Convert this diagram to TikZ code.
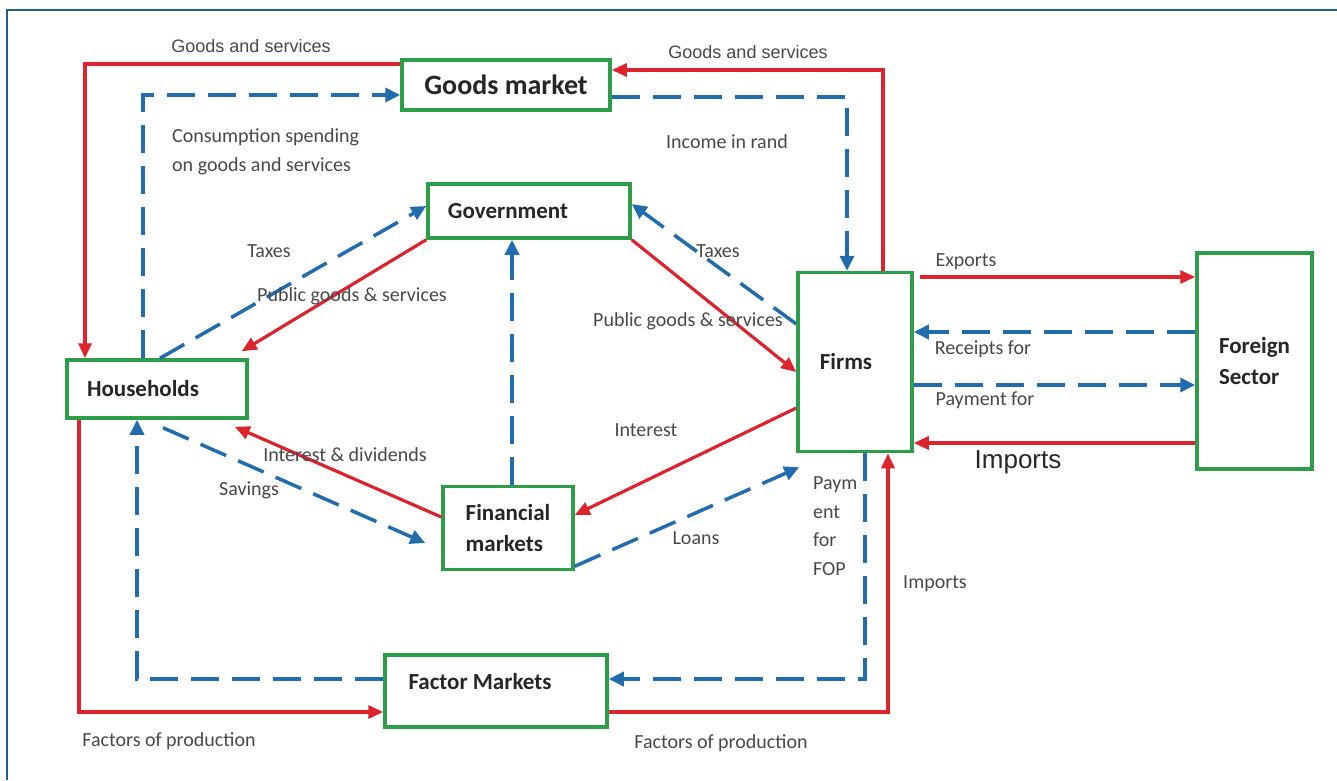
\documentclass[tikz,border=0pt]{standalone}
\usepackage{fontspec}
\setmainfont{Carlito}
\newfontfamily\arialf{Liberation Sans}
\usetikzlibrary{arrows.meta}
\definecolor{cred}{RGB}{221,36,46}
\definecolor{cblue}{RGB}{33,108,173}
\definecolor{cgreen}{RGB}{44,158,74}
\definecolor{cframe}{RGB}{28,98,140}
\definecolor{ctext}{RGB}{72,72,72}
\definecolor{cbold}{RGB}{38,38,38}
\tikzset{
  box/.style={draw=cgreen, line width=3.5pt, fill=white, inner sep=0pt, text=cbold,
              font=\bfseries\fontsize{23}{31}\selectfont},
  redflow/.style={draw=cred, line width=3.2pt, -{Triangle[length=15pt,width=13pt]}},
  blueflow/.style={draw=cblue, line width=3.5pt, dash pattern=on 28pt off 13pt,
              -{Triangle[length=15pt,width=14pt]}},
  lbl/.style={text=ctext, font=\fontsize{20}{29}\selectfont, inner sep=0pt},
  arlbl/.style={text=ctext, font=\arialf\fontsize{18}{22}\selectfont, inner sep=0pt},
  biglbl/.style={text=cbold, font=\arialf\fontsize{26}{30}\selectfont, inner sep=0pt},
  framestyle/.style={draw=cframe, line width=2.5pt}
}
\begin{document}
\begin{tikzpicture}[x=1pt,y=-1pt]
\useasboundingbox (0,0) rectangle (1337,780);
\draw[framestyle] (7,780) -- (7,10) -- (1337,10);

% boxes
\node[box, minimum width=208pt, minimum height=50pt, font=\bfseries\fontsize{28}{32}\selectfont] (gm) at (506,85) {Goods market};
\node[box, minimum width=202pt, minimum height=54pt] (gov) at (529,211) {\hspace*{-42pt}Government};
\node[box, minimum width=180pt, minimum height=58pt] (hh) at (157,389) {\hspace*{-28pt}Households};
\node[box, minimum width=114pt, minimum height=179pt] (firms) at (855,362) {\hspace*{-18pt}Firms};
\node[box, minimum width=130pt, minimum height=83pt, align=left] (fin) at (508,528) {Financial\\markets};
\node[box, minimum width=222pt, minimum height=72pt] (fm) at (496,691) {\raisebox{2pt}[0pt][0pt]{\hspace*{-32pt}Factor Markets}};
\node[box, minimum width=115pt, minimum height=216pt, align=left] (fs) at (1254.5,361) {Foreign\\Sector};

% outer loop connectors
\draw[redflow] ([xshift=28pt]firms.north) |- ([yshift=15pt]gm.east);
\draw[redflow] ([yshift=21pt]gm.west) -| ([xshift=-72pt]hh.north);
\draw[blueflow] ([xshift=-14pt]hh.north) |- ([yshift=-10pt]gm.west);
\draw[blueflow] ([yshift=-12pt]gm.east) -| ([xshift=-8pt]firms.north);

% government
\draw[blueflow] ([xshift=3pt]hh.north) -- ([yshift=5pt]gov.west);
\draw[redflow] (gov.south west) -- ([xshift=-7pt,yshift=7pt]hh.north east);
\draw[redflow] (gov.south east) -- ([yshift=-10pt]firms.west);
\draw[blueflow] ([yshift=38pt]firms.west) -- ([yshift=7pt]gov.east);
\coordinate (fintop) at ([xshift=4pt]fin.north);
\draw[blueflow] (fintop) -- (fintop |- gov.south);

% financial markets
\draw[redflow] ([yshift=-46pt]firms.west) -- ([yshift=13pt]fin.east);
\draw[blueflow] ([yshift=5pt]fin.south east) -- ([xshift=3pt,yshift=-14pt]firms.south west);
\draw[redflow] ([yshift=11pt]fin.west) -- ([xshift=-14pt,yshift=-7pt]hh.south east);
\draw[blueflow] ([xshift=6pt,yshift=-8pt]hh.south) -- ([xshift=-16pt,yshift=-15pt]fin.west);

% factor markets
\draw[blueflow] ([xshift=10pt]firms.south) |- ([yshift=12pt]fm.east);
\draw[redflow] ([yshift=-21pt]fm.east) -| ([xshift=33pt]firms.south);
\draw[blueflow] ([yshift=12pt]fm.west) -| ([xshift=-20pt]hh.south);
\draw[redflow] ([xshift=-78pt]hh.south) |- ([yshift=-21pt]fm.west);

% foreign sector
\coordinate (ex) at ([yshift=84pt]fs.west);
\coordinate (rc) at ([yshift=29pt]fs.west);
\coordinate (pf) at ([yshift=-24pt]fs.west);
\coordinate (im) at ([yshift=-82pt]fs.west);
\draw[redflow, shorten <=6pt] (ex -| firms.east) -- (ex);
\draw[blueflow] (rc) -- (rc -| firms.east);
\draw[blueflow] (pf -| firms.east) -- (pf);
\draw[redflow] (im) -- (im -| firms.east);

% labels
\node[arlbl] (l1) at (251,46) {Goods and services};
\node[arlbl] (l2) at (748,52) {Goods and services};
\node[lbl, anchor=west, align=left] (l3) at (172,152) {Consumption spending\\on goods and services};
\node[lbl] (l4) at (727,142) {Income in rand};
\node[lbl] (l5) at (269,251) {Taxes};
\node[lbl] (l6) at (352,296) {Public goods \& services};
\node[lbl] (l7) at (688,321) {Public goods \& services};
\node[lbl] (l8) at (718,251) {Taxes};
\node[lbl] (l9) at (646,430) {Interest};
\node[lbl] (l10) at (345,455) {Interest \& dividends};
\node[lbl] (l11) at (249,490) {Savings};
\node[lbl] (l12) at (696,538) {Loans};
\node[lbl, anchor=west, align=left, font=\fontsize{20}{28.5}\selectfont] (l13) at (813,526) {Paym\\ent\\for\\FOP};
\node[lbl] (l14) at (935,584) {Imports};
\node[lbl] (l15) at (169,741) {Factors of production};
\node[lbl] (l16) at (721,743) {Factors of production};
\node[lbl] (l17) at (966,262) {Exports};
\node[lbl] (l18) at (983,349) {Receipts for};
\node[lbl] (l19) at (985,400) {Payment for};
\node[biglbl] (l20) at (1018,462) {Imports};
\end{tikzpicture}
\end{document}
